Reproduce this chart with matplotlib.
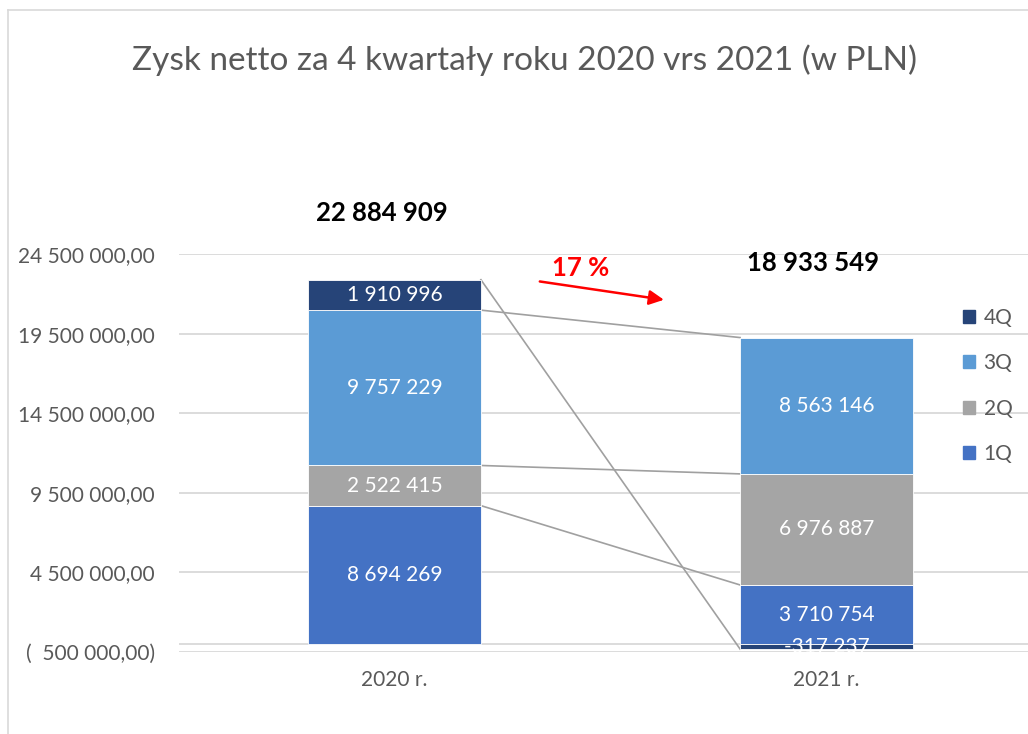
import numpy as np
import matplotlib
matplotlib.use("Agg")
from matplotlib import pyplot as plt
from matplotlib.patches import Patch

plt.rcParams['font.family'] = ['Lato', 'DejaVu Sans']

years = ['2020 r.', '2021 r.']
quarters = ['1Q', '2Q', '3Q', '4Q']
q1 = [8694269, 3710754]
q2 = [2522415, 6976887]
q3 = [9757229, 8563146]
q4 = [1910996, -317237]
totals = [22884909, 18933549]
colors = ['#4472C4', '#A5A5A5', '#5B9BD5', '#264478']
yticks = [-500000, 4500000, 9500000, 14500000, 19500000, 24500000]
change_txt = '17 %'


def spaced(v):
    return '{:,}'.format(v).replace(',', ' ')


def money(v):
    s = '{:,.2f}'.format(abs(v)).replace(',', ' ').replace('.', ',')
    return '(  %s)' % s if v < 0 else s


fig = plt.figure(figsize=(10.28, 7.34), dpi=100)
ax = fig.add_axes([178.5 / 1028, 82 / 734, 864 / 1028, 398 / 734])

x = np.arange(len(years))
w = 0.4
pos = np.zeros(len(years))
neg = np.zeros(len(years))
ends = []
for vals, c in zip([q1, q2, q3, q4], colors):
    vals = np.array(vals, dtype=float)
    bottom = np.where(vals >= 0, pos, neg)
    bars = ax.bar(x, vals, w, bottom=bottom, color=c, edgecolor='white', linewidth=0.6, zorder=3)
    ax.bar_label(bars, labels=[spaced(int(v)) for v in vals], label_type='center',
                 color='white', fontsize=15, zorder=5)
    ends.append(bottom + vals)
    pos = np.where(vals >= 0, pos + vals, pos)
    neg = np.where(vals < 0, neg + vals, neg)

# series lines
for e in ends:
    ax.plot([x[0] + w / 2, x[1] - w / 2], e, color='#A0A0A0', lw=1.2, zorder=2)

ax.text(x[0] - 0.03, totals[0] + 4.2e6, spaced(totals[0]), ha='center', va='center',
        fontsize=18.5, fontweight='bold', color='black', clip_on=False)
ax.text(x[1] - 0.03, totals[1] + 5.0e6, spaced(totals[1]), ha='center', va='center',
        fontsize=18.5, fontweight='bold', color='black', clip_on=False)

ax.annotate('', xy=(0.63, 21.6e6), xytext=(0.33, 22.8e6),
            arrowprops=dict(arrowstyle='-|>', color='red', lw=1.8, mutation_scale=22))
ax.text(0.43, 23.6e6, change_txt, ha='center', va='center', color='red',
        fontsize=18.5, fontweight='bold')

ax.set_xlim(-0.5, 1.5)
ax.set_ylim(-500000, 24500000)
ax.set_yticks(yticks)
ax.set_yticklabels([money(v) for v in yticks])
ax.set_xticks(x)
ax.set_xticklabels(years)
ax.tick_params(axis='both', length=0, colors='#595959', labelsize=15)
ax.tick_params(axis='y', pad=17)
ax.tick_params(axis='x', pad=13)
ax.grid(axis='y', color='#D9D9D9', lw=1.3, zorder=0)
ax.axhline(0, color='#D9D9D9', lw=1.3, zorder=1)
for s in ax.spines.values():
    s.set_visible(False)

handles = [Patch(color=colors[i]) for i in [3, 2, 1, 0]]
fig.legend(handles, [quarters[i] for i in [3, 2, 1, 0]], loc='upper left',
           bbox_to_anchor=(944 / 1028, 1 - 289 / 734), frameon=False,
           handlelength=0.6, handleheight=0.6, handletextpad=0.4,
           labelspacing=1.22, fontsize=15, labelcolor='#595959')

fig.text(524 / 1028, 1 - 60 / 734, 'Zysk netto za 4 kwartały roku 2020 vrs 2021 (w PLN)',
         ha='center', va='center', fontsize=24, color='#595959')

# chart frame (top and left edges visible)
fig.add_artist(plt.Line2D([8 / 1028, 1], [1 - 10 / 734] * 2, color='#D9D9D9', lw=1.2))
fig.add_artist(plt.Line2D([8 / 1028] * 2, [0, 1 - 10 / 734], color='#D9D9D9', lw=1.2))

fig.savefig('out.png', dpi=100)
